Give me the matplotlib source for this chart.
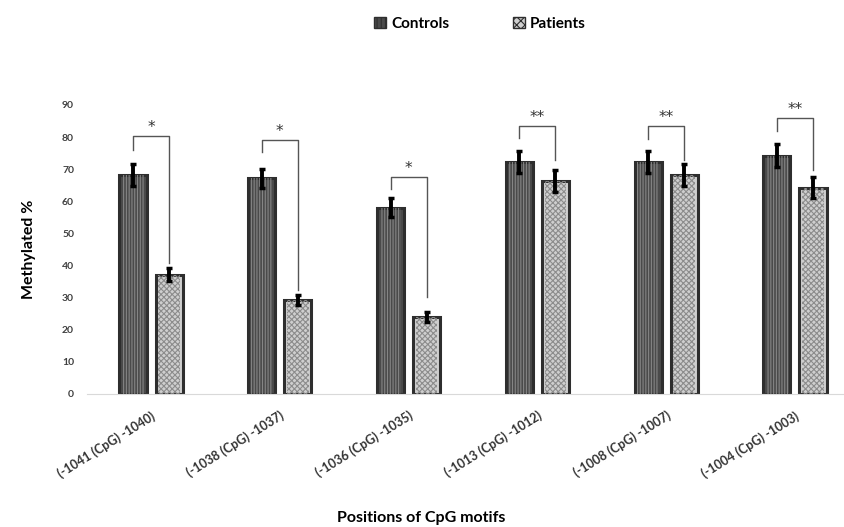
import numpy as np
import matplotlib.pyplot as plt
from matplotlib.patches import Patch

# values
categories = ['(-1041 (CpG) -1040)', '(-1038 (CpG) -1037)', '(-1036 (CpG) -1035)',
              '(-1013 (CpG) -1012)', '(-1008 (CpG) -1007)', '(-1004 (CpG) -1003)']
controls = [68.2, 67.2, 58.0, 72.3, 72.3, 74.2]
patients = [37.1, 29.3, 23.9, 66.4, 68.2, 64.2]
controls_err = [3.3, 3.0, 3.0, 3.5, 3.5, 3.5]
patients_err = [2.0, 1.5, 1.5, 3.5, 3.5, 3.3]
stars = ['*', '*', '*', '**', '**', '**']
bracket_top = [80.4, 79.1, 67.7, 83.5, 83.5, 85.9]
bracket_left = [76.0, 75.5, 63.8, 79.7, 79.3, 81.8]
bracket_right = [40.8, 32.4, 30.3, 72.9, 72.9, 69.8]

plt.rcParams['font.family'] = ['Lato', 'DejaVu Sans']
plt.rcParams['hatch.linewidth'] = 0.8

fig = plt.figure(figsize=(8.45, 5.27), dpi=100)
ax = fig.add_axes([0.1025, 0.2524, 0.9145, 0.5484])

x = np.arange(len(categories))
w = 0.21
off = 0.14

# base bars with thick dark edge
ax.bar(x - off, controls, w, color='#4a4a4a', edgecolor='#2e2e2e', linewidth=2.2, zorder=2)
ax.bar(x + off, patients, w, color='#cfcfcf', edgecolor='#2e2e2e', linewidth=2.2, zorder=2)
# texture overlay
ax.bar(x - off, controls, w * 0.8, color='none', edgecolor='#858585', hatch='||||||', linewidth=0, zorder=3)
ax.bar(x + off, patients, w * 0.8, color='none', edgecolor='#8c8c8c', hatch='xxxxxx', linewidth=0, zorder=3)

ax.errorbar(x - off, controls, yerr=controls_err, fmt='none', ecolor='black',
            elinewidth=2.8, capsize=2.5, capthick=2.5, zorder=4)
ax.errorbar(x + off, patients, yerr=patients_err, fmt='none', ecolor='black',
            elinewidth=2.8, capsize=2.5, capthick=2.5, zorder=4)

# significance brackets
for i in range(len(categories)):
    xl = x[i] - off
    xr = x[i] + off
    ax.plot([xl, xl, xr, xr], [bracket_left[i], bracket_top[i], bracket_top[i], bracket_right[i]],
            color='#555555', lw=1.0, zorder=5)
    ax.text(x[i], bracket_top[i] + 0.3, stars[i], ha='center', va='bottom',
            fontsize=11, color='#333333', family='DejaVu Sans')

ax.set_ylim(0, 90)
ax.set_xlim(-0.5, len(categories) - 0.5)
ax.set_yticks(range(0, 91, 10))
ax.tick_params(axis='y', length=0, labelsize=7.5, labelcolor='#404040', pad=9)
for lbl in ax.get_yticklabels():
    lbl.set_fontweight('bold')
ax.set_xticks(x)
ax.set_xticklabels(categories, rotation=32, ha='right', rotation_mode='anchor',
                   fontsize=9, fontweight='bold', color='#333333')
ax.tick_params(axis='x', length=0, pad=11)

for s in ['top', 'right', 'left']:
    ax.spines[s].set_visible(False)
ax.spines['bottom'].set_color('#d9d9d9')

ax.set_ylabel('Methylated %', fontsize=11.5, fontweight='bold')
ax.yaxis.set_label_coords(-0.065, 0.5)
ax.set_xlabel('Positions of CpG motifs', fontsize=11.5, fontweight='bold')
ax.xaxis.set_label_coords(0.433, -0.405)

handles = [Patch(facecolor='#4a4a4a', edgecolor='#2e2e2e', hatch='||||', label='Controls'),
           Patch(facecolor='#cfcfcf', edgecolor='#2e2e2e', hatch='xxxx', label='Patients')]
fig.legend(handles=handles, loc='center', bbox_to_anchor=(0.568, 0.955), ncol=2,
           frameon=False, prop={'weight': 'bold', 'size': 11},
           handlelength=0.8, handleheight=0.8, handletextpad=0.3, columnspacing=4.2)

fig.savefig('out.png', dpi=100)
